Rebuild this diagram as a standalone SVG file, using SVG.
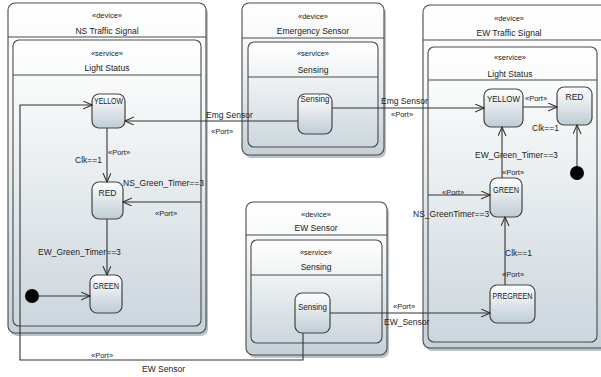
<svg xmlns="http://www.w3.org/2000/svg" width="601" height="377" viewBox="0 0 601 377">
<defs>
<linearGradient id="gOuter" x1="0" y1="0" x2="0" y2="1">
<stop offset="0" stop-color="#ffffff"/><stop offset="0.35" stop-color="#f3f5f6"/><stop offset="1" stop-color="#c5d0d8"/>
</linearGradient>
<linearGradient id="gInner" x1="0" y1="0" x2="0" y2="1">
<stop offset="0" stop-color="#ffffff"/><stop offset="0.3" stop-color="#f1f4f5"/><stop offset="1" stop-color="#ccd6dd"/>
</linearGradient>
<linearGradient id="gState" x1="0" y1="0" x2="0" y2="1">
<stop offset="0" stop-color="#ffffff"/><stop offset="1" stop-color="#bfccd5"/>
</linearGradient>
<marker id="arr" markerWidth="10" markerHeight="10" refX="9" refY="4" orient="auto" markerUnits="userSpaceOnUse">
<path d="M0,0 L9,4 L0,8" fill="none" stroke="#333" stroke-width="1.1"/>
</marker>
<style>
.outer{fill:url(#gOuter);stroke:#4a4a4a;stroke-width:1.1}
.inner{fill:url(#gInner);stroke:#4a4a4a;stroke-width:1.1}
.hl{stroke:#4a4a4a;stroke-width:1.1}
.st{fill:url(#gState);stroke:#444;stroke-width:1.2}
.shadow{fill:#b9c3c9;stroke:none}
text{font-family:"Liberation Sans",Arial,sans-serif;fill:#222}
.ster{font-size:7.5px;text-anchor:middle}
.title{font-size:8.5px;text-anchor:middle}
.sl{font-size:8.5px;text-anchor:middle}
.lbl{font-size:8.5px}
.c{stroke:#333;stroke-width:1.1;fill:none}
.dot{fill:#000}
</style>
</defs>

<g id="ns-traffic-signal">
<rect class="shadow" x="10" y="6" width="198" height="330" rx="7"/>
<rect class="outer" x="8" y="3" width="198" height="330" rx="7"/>
<line class="hl" x1="8" y1="37" x2="206" y2="37"/>
<text class="ster" x="107" y="18">«device»</text>
<text class="title" x="107" y="34">NS Traffic Signal</text>
<g id="ns-light-status">
<rect class="inner" x="13" y="40" width="188" height="286" rx="6"/>
<line class="hl" x1="13" y1="75" x2="201" y2="75"/>
<text class="ster" x="107" y="56">«service»</text>
<text class="title" x="107" y="71">Light Status</text>
</g>
</g>

<g id="ns-yellow"><rect class="st" x="92" y="94" width="33" height="34" rx="7"/><text class="sl" x="108.5" y="104" textLength="29" lengthAdjust="spacingAndGlyphs">YELLOW</text></g>
<g id="ns-red"><rect class="st" x="92" y="182" width="31" height="37" rx="7"/><text class="sl" x="107.5" y="196">RED</text></g>
<g id="ns-green"><rect class="st" x="90" y="275" width="32" height="38" rx="7"/><text class="sl" x="106" y="289" textLength="26" lengthAdjust="spacingAndGlyphs">GREEN</text></g>
<g id="ns-initial"><circle class="dot" cx="32" cy="296" r="7"/></g>

<g id="emergency-sensor">
<rect class="shadow" x="244" y="6" width="142" height="152" rx="7"/>
<rect class="outer" x="242" y="3" width="142" height="152" rx="7"/>
<line class="hl" x1="242" y1="38" x2="384" y2="38"/>
<text class="ster" x="313" y="19">«device»</text>
<text class="title" x="313" y="34">Emergency Sensor</text>
<g id="emg-sensing-service">
<rect class="inner" x="248" y="42" width="130" height="105" rx="6"/>
<line class="hl" x1="248" y1="77" x2="378" y2="77"/>
<text class="ster" x="313" y="56">«service»</text>
<text class="title" x="313" y="73">Sensing</text>
</g>
</g>
<g id="emg-sensing"><rect class="st" x="298" y="94" width="34" height="40" rx="7"/><text class="sl" x="315" y="102" textLength="29" lengthAdjust="spacingAndGlyphs">Sensing</text></g>

<g id="ew-sensor">
<rect class="shadow" x="248" y="205" width="141" height="153" rx="7"/>
<rect class="outer" x="246" y="202" width="141" height="153" rx="7"/>
<line class="hl" x1="246" y1="235" x2="387" y2="235"/>
<text class="ster" x="316" y="217">«device»</text>
<text class="title" x="316" y="231">EW Sensor</text>
<g id="ew-sensing-service">
<rect class="inner" x="251" y="240" width="131" height="103" rx="6"/>
<line class="hl" x1="251" y1="275" x2="382" y2="275"/>
<text class="ster" x="316" y="255">«service»</text>
<text class="title" x="316" y="270">Sensing</text>
</g>
</g>
<g id="ew-sensing"><rect class="st" x="295" y="293" width="35" height="40" rx="7"/><text class="sl" x="312.5" y="310" textLength="29" lengthAdjust="spacingAndGlyphs">Sensing</text></g>

<g id="ew-traffic-signal">
<rect class="shadow" x="425" y="8" width="190" height="343" rx="7"/>
<rect class="outer" x="423" y="5" width="190" height="343" rx="7"/>
<line class="hl" x1="423" y1="40" x2="613" y2="40"/>
<text class="ster" x="509" y="21">«device»</text>
<text class="title" x="509" y="36">EW Traffic Signal</text>
<g id="ew-light-status">
<rect class="inner" x="428" y="47" width="169" height="295" rx="6"/>
<line class="hl" x1="428" y1="80" x2="597" y2="80"/>
<text class="ster" x="510" y="60">«service»</text>
<text class="title" x="510" y="77">Light Status</text>
</g>
</g>

<g id="ew-yellow"><rect class="st" x="484" y="89" width="39" height="38" rx="7"/><text class="sl" x="503.5" y="102" textLength="33" lengthAdjust="spacingAndGlyphs">YELLOW</text></g>
<g id="ew-red"><rect class="st" x="557" y="87" width="35" height="38" rx="7"/><text class="sl" x="574.5" y="100">RED</text></g>
<g id="ew-green"><rect class="st" x="490" y="178" width="32" height="39" rx="7"/><text class="sl" x="506" y="193" textLength="26" lengthAdjust="spacingAndGlyphs">GREEN</text></g>
<g id="ew-pregreen"><rect class="st" x="490" y="285" width="45" height="38" rx="7"/><text class="sl" x="512.5" y="299" textLength="40" lengthAdjust="spacingAndGlyphs">PREGREEN</text></g>
<g id="ew-initial"><circle class="dot" cx="577" cy="173" r="7"/></g>

<g id="connectors">
<path class="c" d="M298,121 L125,121" marker-end="url(#arr)"/>
<text class="lbl" x="206" y="118">Emg Sensor</text>
<text class="lbl" x="211" y="134" style="font-size:7.5px">«Port»</text>

<path class="c" d="M332,108 L484,108" marker-end="url(#arr)"/>
<text class="lbl" x="381" y="104">Emg Sensor</text>
<text class="lbl" x="391" y="117" style="font-size:7.5px">«Port»</text>

<path class="c" d="M107,128 L107,182" marker-end="url(#arr)"/>
<text class="lbl" x="75" y="163">Clk==1</text>
<text class="lbl" x="108" y="155" style="font-size:7.5px">«Port»</text>

<path class="c" d="M201,202 L123,202" marker-end="url(#arr)"/>
<text class="lbl" x="123" y="186">NS_Green_Timer==3</text>
<text class="lbl" x="155" y="216" style="font-size:7.5px">«Port»</text>

<path class="c" d="M107,219 L107,275" marker-end="url(#arr)"/>
<text class="lbl" x="38" y="255">EW_Green_Timer==3</text>

<path class="c" d="M39,296 L90,296" marker-end="url(#arr)"/>

<path class="c" d="M303,333 L303,360 L20,360 L20,105 L92,105" marker-end="url(#arr)"/>
<text class="lbl" x="91" y="358" style="font-size:7.5px">«Port»</text>
<text class="lbl" x="142" y="372">EW Sensor</text>

<path class="c" d="M523,107 L557,107" marker-end="url(#arr)"/>
<text class="lbl" x="525" y="101" style="font-size:7.5px">«Port»</text>
<text class="lbl" x="532" y="131">Clk==1</text>

<path class="c" d="M577,166 L577,125" marker-end="url(#arr)"/>

<path class="c" d="M502,178 L502,127" marker-end="url(#arr)"/>
<text class="lbl" x="475" y="158">EW_Green_Timer==3</text>
<text class="lbl" x="502" y="175" style="font-size:7.5px">«Port»</text>

<path class="c" d="M428,195 L490,195" marker-end="url(#arr)"/>
<text class="lbl" x="442" y="195" style="font-size:7.5px">«Port»</text>
<text class="lbl" x="413" y="217">NS_GreenTimer==3</text>

<path class="c" d="M505,285 L505,217" marker-end="url(#arr)"/>
<text class="lbl" x="505" y="256">Clk==1</text>
<text class="lbl" x="502" y="277" style="font-size:7.5px">«Port»</text>

<path class="c" d="M330,313 L490,313" marker-end="url(#arr)"/>
<text class="lbl" x="393" y="309" style="font-size:7.5px">«Port»</text>
<text class="lbl" x="384" y="325">EW_Sensor</text>
</g>
</svg>
